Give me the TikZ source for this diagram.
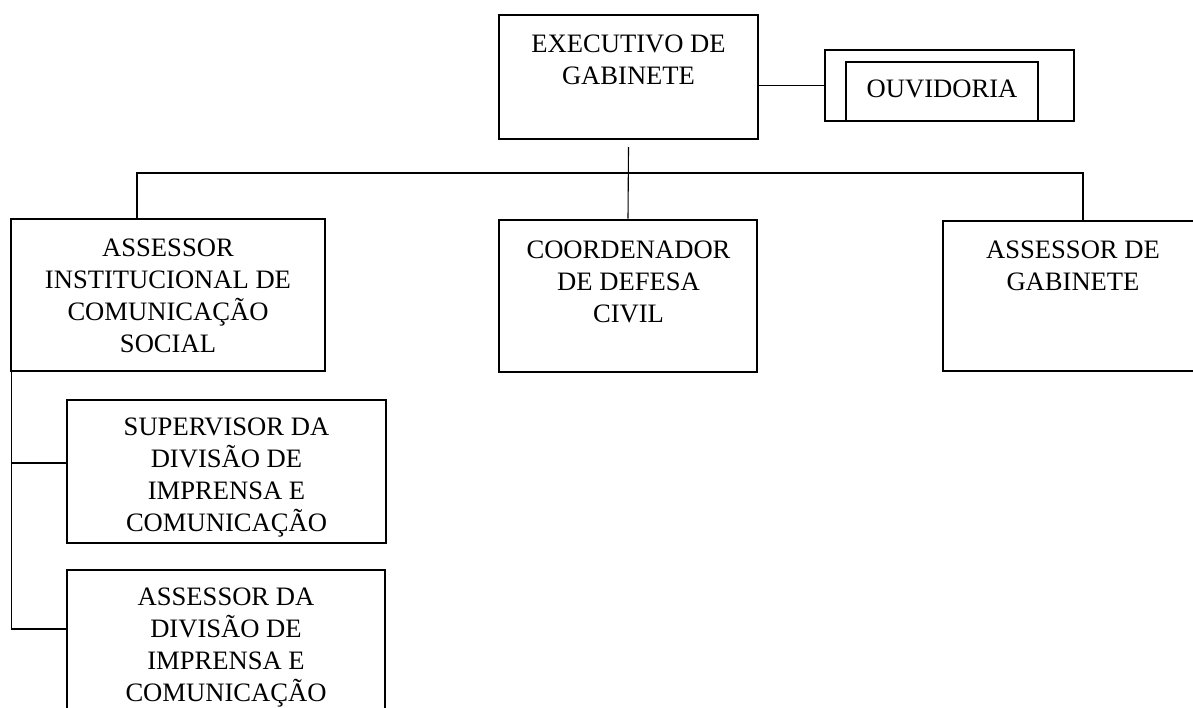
\documentclass[tikz,border=0pt]{standalone}
\usepackage{fontspec}
\setmainfont{Liberation Serif}
\newdimen\pxu
\pxu=0.5pt
\newcommand\orgfs{\fontsize{13.3pt}{16pt}\selectfont}
\tikzset{
  box/.style={draw, line width=1.35pt, inner sep=0pt, rectangle},
  thinbox/.style={draw, line width=1.15pt, inner sep=0pt, rectangle},
  lbl/.style={align=center, inner sep=0pt, anchor=north, font=\orgfs},
  conn/.style={line width=0.55pt},
}
\begin{document}
\begin{tikzpicture}[x=0.5pt,y=-0.5pt]
\useasboundingbox (0,0) rectangle (1193,707);
\clip (0,0) rectangle (1193,707);
\fill[white] (0,0) rectangle (1193,707);

% boxes
\node[box, minimum width=259\pxu, minimum height=124\pxu] (exec) at (628.5,77) {};
\node[thinbox, minimum width=249\pxu, minimum height=71\pxu] (ouvo) at (949.5,85.5) {};
\node[thinbox, minimum width=192\pxu, minimum height=59\pxu] (ouvi) at (942,91.5) {};
\node[box, minimum width=314\pxu, minimum height=152\pxu] (ascom) at (168,295) {};
\node[box, minimum width=258\pxu, minimum height=152\pxu] (coord) at (628,296) {};
\node[box, minimum width=260\pxu, minimum height=150\pxu] (assgab) at (1073,296) {};
\node[box, minimum width=319\pxu, minimum height=143\pxu] (sup) at (226.5,471.5) {};
\node[box, minimum width=318\pxu, minimum height=160\pxu] (assdiv) at (226,650) {};

% texts
\node[lbl] (execT) at (628.5,34) {EXECUTIVO DE\\GABINETE};
\node[lbl] (ouvT) at (942,79) {OUVIDORIA};
\node[lbl] (ascomT) at (168,238) {ASSESSOR\\INSTITUCIONAL DE\\COMUNICAÇÃO\\SOCIAL};
\node[lbl] (coordT) at (628.5,240) {COORDENADOR\\DE DEFESA\\CIVIL};
\node[lbl] (assgabT) at (1073,240) {ASSESSOR DE\\GABINETE};
\node[lbl] (supT) at (226.5,417) {SUPERVISOR DA\\DIVISÃO DE\\IMPRENSA E\\COMUNICAÇÃO};
\node[lbl] (assdivT) at (226,587) {ASSESSOR DA\\DIVISÃO DE\\IMPRENSA E\\COMUNICAÇÃO};

% connector coordinates
\coordinate (trunk) at (628.5,147);
\coordinate (busL) at (137,173);
\coordinate (busR) at (1083,173);
\coordinate (spine) at (11.5,371);
\coordinate (j1) at (11.5,463);
\coordinate (j2) at (11.5,629);

% connectors
\draw[conn] (ouvo.west) -- (ouvo.west -| exec.east);
\draw[conn] (trunk) -- (coord.north);
\draw[conn] (ascom.north -| busL) -- (busL) -- (busR) -- (assgab.north -| busR);
\draw[conn] (spine) -- (j2) -- (j2 -| assdiv.west);
\draw[conn] (j1) -- (j1 -| sup.west);
\end{tikzpicture}
\end{document}
